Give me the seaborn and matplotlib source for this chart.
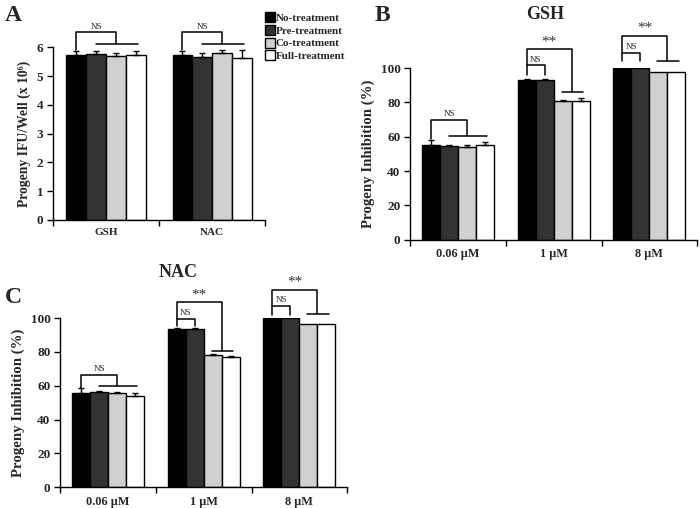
import matplotlib
matplotlib.use("Agg")
import matplotlib.pyplot as plt
import numpy as np
import pandas as pd
import seaborn as sns
from matplotlib.lines import Line2D

# ---- data ----
treatments = ["No-treatment", "Pre-treatment", "Co-treatment", "Full-treatment"]
colors = ["#000000", "#333333", "#d0d0d0", "#ffffff"]

a_groups = ["GSH", "NAC"]
a_vals = [[5.73, 5.77, 5.69, 5.72],
          [5.73, 5.65, 5.79, 5.62]]
a_errs = [[0.13, 0.11, 0.11, 0.16],
          [0.13, 0.14, 0.13, 0.27]]

conc = ["0.06 \u03bcM", "1 \u03bcM", "8 \u03bcM"]
gsh_vals = [[55.3, 54.4, 54.2, 55.0],
            [93.2, 93.2, 80.6, 80.6],
            [100.0, 100.0, 97.7, 97.7]]
gsh_errs = [[2.7, 0.8, 0.8, 1.7],
            [0.3, 0.5, 0.6, 2.0],
            [0.0, 0.0, 0.0, 0.0]]
nac_vals = [[55.8, 56.4, 55.8, 53.9],
            [93.7, 93.7, 78.4, 77.2],
            [100.0, 100.0, 96.6, 96.6]]
nac_errs = [[2.6, 0.2, 0.2, 1.6],
            [0.2, 0.3, 0.3, 0.2],
            [0.0, 0.0, 0.0, 0.0]]

# bracket heights (data units): (NS bottom, NS top, ** top, line level)
a_brackets = [(5.9, 6.52, None, 6.11), (5.9, 6.52, None, 6.11)]
gsh_brackets = [(58.5, 69.9, None, 60.2), (96.0, 101.6, 111.0, 85.8), (103.9, 108.7, 118.8, 103.9)]
nac_brackets = [(58.5, 66.3, None, 59.8), (95.0, 99.6, 109.3, 80.6), (102.0, 107.3, 116.8, 102.4)]

SERIF = ["Liberation Serif", "DejaVu Serif"]


def to_frame(groups, vals):
    rows = []
    for g, vs in zip(groups, vals):
        for t, v in zip(treatments, vs):
            rows.append({"group": g, "treatment": t, "value": v})
    return pd.DataFrame(rows)


def bar_panel(ax, groups, vals, errs, ylim, yticks, ylabel, brackets, tick_fs, ylab_fs):
    df = to_frame(groups, vals)
    sns.barplot(data=df, x="group", y="value", hue="treatment",
                hue_order=treatments, palette=colors, edgecolor="black",
                linewidth=1.0, width=0.75, errorbar=None, legend=False,
                saturation=1, ax=ax)
    # one-sided error bars on top of each bar
    bar_conts = list(ax.containers)
    for hi, cont in enumerate(bar_conts):
        for gi, patch in enumerate(cont.patches):
            xc = patch.get_x() + patch.get_width() / 2
            h = patch.get_height()
            e = errs[gi][hi]
            if e > 0:
                ax.errorbar(xc, h, yerr=[[0], [e]], fmt="none", ecolor="black",
                            elinewidth=1.0, capsize=2.5, capthick=1.0)
    ax.set_ylim(*ylim)
    ax.set_yticks(yticks)
    ax.set_xlim(-0.5, len(groups) - 0.5)
    ax.set_xticks(range(len(groups)))
    ax.set_xticklabels(groups, fontweight="bold", fontsize=tick_fs, family=SERIF)
    ax.set_yticklabels([str(t) for t in yticks], fontweight="bold", fontsize=9.5, family=SERIF)
    ax.set_xticks(np.arange(-0.5, len(groups), 1.0), minor=True)
    ax.tick_params(axis="x", which="major", bottom=False, length=0, pad=6)
    ax.tick_params(axis="x", which="minor", bottom=True, length=4, width=1,
                   direction="out", color="black")
    ax.tick_params(axis="y", left=True, length=4, width=1, direction="out", pad=3,
                   color="black")
    ax.set_xlabel("")
    ax.set_ylabel(ylabel, fontweight="bold", fontsize=ylab_fs, family=SERIF, labelpad=4)
    for s in ["top", "right"]:
        ax.spines[s].set_visible(False)
    for s in ["left", "bottom"]:
        ax.spines[s].set_linewidth(1.0)
        ax.spines[s].set_color("black")

    off = [-0.28125, -0.09375, 0.09375, 0.28125]
    kw = dict(color="black", lw=1.1, clip_on=False)
    yr = ylim[1] - ylim[0]
    for gi, (b0, b1, b2, lvl) in enumerate(brackets):
        x0 = gi + off[0]
        if b2 is None:
            # NS: control vs. the other three
            xd = gi + off[2]
            ax.plot([x0, x0, xd, xd], [b0, b1, b1, lvl], **kw)
            ax.plot([gi + off[1], gi + off[3] + 0.02], [lvl, lvl], **kw)
            ax.text((x0 + xd) / 2, b1 + 0.01 * yr, "NS", ha="center", va="bottom",
                    fontsize=6.5, family=SERIF)
        else:
            x1 = gi + off[1]
            ax.plot([x0, x0, x1, x1], [b0, b1, b1, b0], **kw)
            ax.text((x0 + x1) / 2, b1 + 0.01 * yr, "NS", ha="center", va="bottom",
                    fontsize=6.5, family=SERIF)
            xd = gi + (off[2] + off[3]) / 2
            ax.plot([x0, x0, xd, xd], [b1, b2, b2, lvl], **kw)
            ax.plot([gi + off[2] - 0.01, gi + off[3] + 0.03], [lvl, lvl], **kw)
            ax.text((x0 + xd) / 2, b2 + 0.005 * yr, "**", ha="center", va="bottom",
                    fontsize=11, family=SERIF, color="#333333")


def main() -> None:
    sns.set_theme(style="ticks")
    plt.rcParams["font.family"] = SERIF

    fig = plt.figure(figsize=(7.0, 5.08), dpi=100)
    ax_a = fig.add_axes([0.076, 0.567, 0.303, 0.340])
    ax_b = fig.add_axes([0.586, 0.528, 0.410, 0.338])
    ax_c = fig.add_axes([0.086, 0.041, 0.410, 0.333])

    bar_panel(ax_a, a_groups, a_vals, a_errs, (0, 6), list(range(0, 7)),
              "Progeny IFU/Well (x 10\u2076)", a_brackets, 8, 9.8)
    bar_panel(ax_b, conc, gsh_vals, gsh_errs, (0, 100), list(range(0, 101, 20)),
              "Progeny Inhibition (%)", gsh_brackets, 8.8, 10.7)
    bar_panel(ax_c, conc, nac_vals, nac_errs, (0, 100), list(range(0, 101, 20)),
              "Progeny Inhibition (%)", nac_brackets, 8.8, 10.7)

    # panel letters and titles
    fig.text(0.007, 0.97, "A", fontsize=17, fontweight="bold", va="center")
    fig.text(0.535, 0.97, "B", fontsize=17, fontweight="bold", va="center")
    fig.text(0.007, 0.415, "C", fontsize=17, fontweight="bold", va="center")
    fig.text(0.779, 0.972, "GSH", fontsize=13, fontweight="bold", ha="center", va="center")
    fig.text(0.255, 0.463, "NAC", fontsize=13, fontweight="bold", ha="center", va="center")

    handles = [Line2D([], [], marker="s", linestyle="none", markersize=6.5,
                      markerfacecolor=c, markeredgecolor="black", markeredgewidth=1)
               for c in colors]
    fig.legend(handles, treatments, loc="upper left", bbox_to_anchor=(0.37, 0.99),
               frameon=False, prop={"family": SERIF, "weight": "bold", "size": 8},
               handlelength=0.6, handletextpad=0.2, labelspacing=0.28, borderpad=0.2)

    fig.savefig("out.png", dpi=100)
    plt.close(fig)


if __name__ == "__main__":
    main()
